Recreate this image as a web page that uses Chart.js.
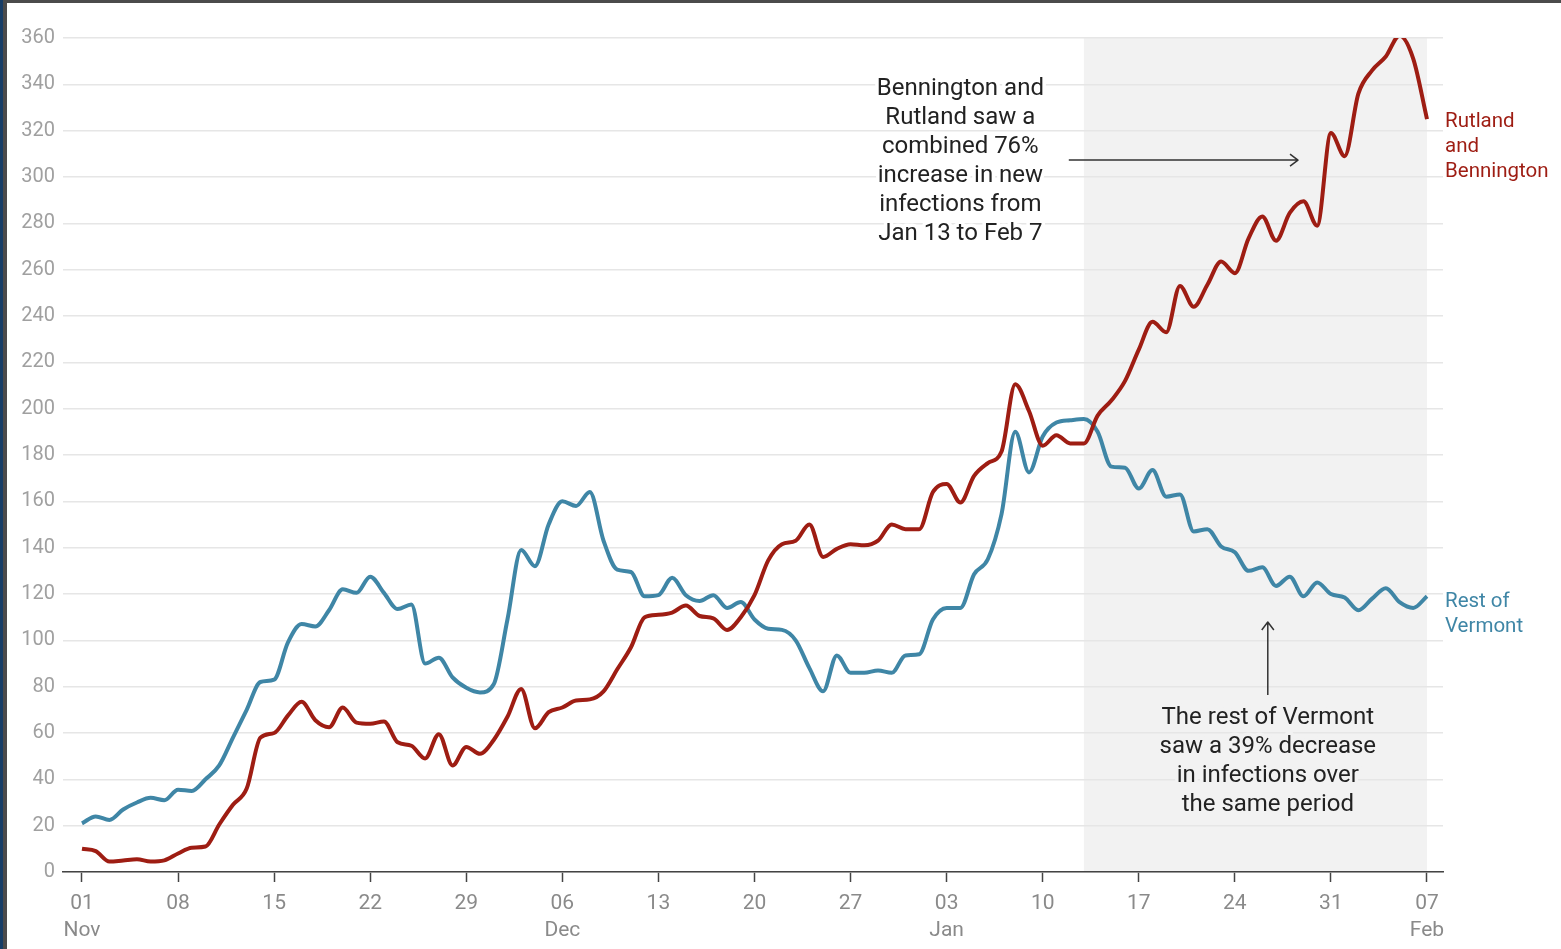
<!DOCTYPE html>
<html>
<head>
<meta charset="utf-8">
<script src="https://cdn.jsdelivr.net/npm/chart.js@4.4.1/dist/chart.umd.min.js"></script>
<style>
  html, body { margin: 0; padding: 0; background: #fff; }
  #wrap { position: relative; width: 1561px; height: 949px; overflow: hidden; }
  #chart { position: absolute; left: 0; top: 0; }
  #edgeTop { position: absolute; left: 0; top: 0; width: 1561px; height: 3px; background: #4b4b4b; }
  #edgeLeft { position: absolute; left: 0; top: 0; width: 3px; height: 949px; background: #173d66; border-right: 4px solid #4b4b4b; }
</style>
</head>
<body>
<div id="wrap">
  <canvas id="chart" width="1561" height="949"></canvas>
  <div id="edgeTop"></div>
  <div id="edgeLeft"></div>
</div>
<script>
// daily values, 1 Nov -> 7 Feb (99 days)
var rutlandBennington = [
    10, 9, 4.5, 5, 5.5, 4.5, 5, 8, 10.5, 11,
    20.5, 29, 36, 58, 60, 67.5, 73.5, 65.5, 62.5, 71,
    64.5, 64, 65, 56, 54.5, 49, 59.5, 46, 54, 51,
    57, 67, 79, 62, 69, 71, 74, 74.5, 78, 87.5,
    97, 110, 111, 112, 115, 110.5, 109.5, 104.5, 110, 119.5,
    134.5, 141.5, 143, 150, 136, 139.5, 141.5, 141, 143, 150,
    148, 148, 164, 167.5, 159.5, 171, 176.5, 181.5, 210.5, 199,
    184, 188.5, 185, 185, 197, 203.5, 212, 225.5, 237.5, 233,
    253, 244, 253.5, 263.5, 258.5, 273.5, 283, 272.5, 284.5, 289.5,
    279, 319, 309, 336, 346, 352, 361, 351, 325
];
var restOfVermont = [
    21, 24, 22.5, 27, 30, 32, 31, 35.5, 35, 40,
    46, 58, 70, 82, 83, 99, 107, 106, 113, 122,
    120.5, 127.5, 120.5, 113.5, 115.5, 90, 92.5, 84, 79.5, 77.5,
    81, 109, 139, 132, 150, 160, 158, 164, 143, 130.5,
    129.5, 119, 119.5, 127, 119.5, 117, 119.5, 114, 116.5, 109,
    105, 104.5, 100, 88, 78, 93.5, 86, 86, 87, 86,
    93.5, 94, 109, 114, 114, 128.5, 135, 154.5, 190, 172.5,
    188, 194, 195, 195.5, 190, 175, 174.5, 165.5, 173.5, 162,
    163, 147, 148, 140.5, 138, 130, 131.5, 123.5, 127.5, 119,
    125, 120, 118.5, 113, 118, 122.5, 116.5, 114, 119
];

var tickDays = [0, 7, 14, 21, 28, 35, 42, 49, 56, 63, 70, 77, 84, 91, 98];
var tickDayLabels = ["01", "08", "15", "22", "29", "06", "13", "20", "27", "03", "10", "17", "24", "31", "07"];
var tickMonthLabels = ["Nov", "", "", "", "", "Dec", "", "", "", "Jan", "", "", "", "", "Feb"];

// Jan 13 -> Feb 7
var shadeFrom = 73;
var shadeTo = 98;

var noteUp = ["Bennington and", "Rutland saw a", "combined 76%", "increase in new", "infections from", "Jan 13 to Feb 7"];
var noteDown = ["The rest of Vermont", "saw a 39% decrease", "in infections over", "the same period"];
var labelRed = ["Rutland", "and", "Bennington"];
var labelBlue = ["Rest of", "Vermont"];

var RED = '#9e1d13';
var BLUE = '#3f86a6';
var SHADE = '#f2f2f2';

Chart.defaults.font.family = 'Roboto, "Open Sans", sans-serif';

function toPoints(values) {
    return values.map(function (v, i) { return { x: i, y: v }; });
}

function textLines(ctx, lines, x, y, lh, color, halo) {
    lines.forEach(function (t, i) {
        var yy = y + i * lh;
        if (halo) {
            ctx.strokeStyle = halo;
            ctx.lineWidth = 7;
            ctx.lineJoin = 'round';
            ctx.strokeText(t, x, yy);
        }
        ctx.fillStyle = color;
        ctx.fillText(t, x, yy);
    });
}

function arrow(ctx, x0, y0, x1, y1) {
    var a = Math.atan2(y1 - y0, x1 - x0), h = 10;
    ctx.beginPath();
    ctx.moveTo(x0, y0);
    ctx.lineTo(x1, y1);
    ctx.moveTo(x1 - h * Math.cos(a - 0.65), y1 - h * Math.sin(a - 0.65));
    ctx.lineTo(x1, y1);
    ctx.lineTo(x1 - h * Math.cos(a + 0.65), y1 - h * Math.sin(a + 0.65));
    ctx.stroke();
}

var shadePlugin = {
    id: 'shade',
    beforeDraw: function (chart) {
        var ctx = chart.ctx, x = chart.scales.x, y = chart.scales.y;
        var x0 = x.getPixelForValue(shadeFrom), x1 = x.getPixelForValue(shadeTo);
        var top = y.getPixelForValue(360), bottom = y.getPixelForValue(0);
        ctx.save();
        ctx.fillStyle = SHADE;
        ctx.fillRect(x0, top, x1 - x0, bottom - top);
        ctx.restore();
    }
};

var notesPlugin = {
    id: 'notes',
    afterDatasetsDraw: function (chart) {
        var ctx = chart.ctx, x = chart.scales.x, y = chart.scales.y;
        ctx.save();
        ctx.textBaseline = 'middle';

        // annotations
        ctx.font = '24px Roboto, sans-serif';
        ctx.textAlign = 'center';
        textLines(ctx, noteUp, x.getPixelForValue(64), y.getPixelForValue(338), 29, '#222', '#fff');
        textLines(ctx, noteDown, x.getPixelForValue(86.4), y.getPixelForValue(66.5), 29, '#222', SHADE);

        ctx.strokeStyle = '#333';
        ctx.lineWidth = 1.5;
        arrow(ctx, x.getPixelForValue(71.9), y.getPixelForValue(307.3), x.getPixelForValue(88.6), y.getPixelForValue(307.3));
        arrow(ctx, x.getPixelForValue(86.4), y.getPixelForValue(76.4), x.getPixelForValue(86.4), y.getPixelForValue(107.9));

        // series labels
        ctx.font = '20.5px Roboto, sans-serif';
        ctx.textAlign = 'left';
        var lx = chart.chartArea.right + 2;
        textLines(ctx, labelRed, lx, y.getPixelForValue(323.7), 25, RED);
        textLines(ctx, labelBlue, lx, y.getPixelForValue(116.5), 25, BLUE);
        ctx.restore();
    }
};

var ctx = document.getElementById('chart').getContext('2d');
new Chart(ctx, {
    type: 'line',
    data: {
        datasets: [{
            label: 'Rutland and Bennington',
            data: toPoints(rutlandBennington),
            borderColor: RED,
            borderWidth: 4,
            pointRadius: 0,
            cubicInterpolationMode: 'monotone'
        }, {
            label: 'Rest of Vermont',
            data: toPoints(restOfVermont),
            borderColor: BLUE,
            borderWidth: 4,
            pointRadius: 0,
            cubicInterpolationMode: 'monotone'
        }]
    },
    options: {
        responsive: false,
        animation: false,
        layout: { padding: { top: 38, right: 118, bottom: 0, left: 0 } },
        plugins: { legend: { display: false }, tooltip: { enabled: false } },
        scales: {
            x: {
                type: 'linear',
                min: -1.384,
                max: 99.166,
                afterFit: function (s) { s.height = 77; },
                afterBuildTicks: function (s) {
                    s.ticks = tickDays.map(function (d) { return { value: d }; });
                },
                border: { color: '#444', width: 1.5 },
                grid: { drawOnChartArea: false, color: '#444', tickLength: 10, tickWidth: 1.5 },
                ticks: {
                    autoSkip: false,
                    maxRotation: 0,
                    padding: 9,
                    color: '#8a8a8a',
                    font: { size: 21, lineHeight: 1.25 },
                    callback: function (value, index) {
                        var m = tickMonthLabels[index];
                        return m ? [tickDayLabels[index], m] : tickDayLabels[index];
                    }
                }
            },
            y: {
                min: 0,
                max: 360,
                afterFit: function (s) { s.width = 63; },
                border: { display: false },
                grid: { color: '#e6e6e6', lineWidth: 1.5, drawTicks: false },
                ticks: { stepSize: 20, padding: 8, color: '#a0a0a0', font: { size: 20 } }
            }
        }
    },
    plugins: [shadePlugin, notesPlugin]
});
</script>
</body>
</html>
